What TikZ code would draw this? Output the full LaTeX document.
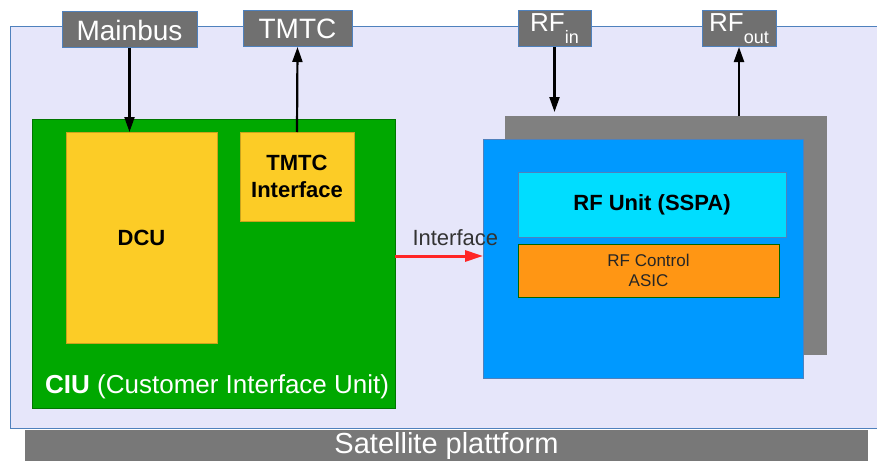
\documentclass[tikz,border=0pt]{standalone}
\usepackage{fontspec}
\setmainfont{Liberation Sans}
\usetikzlibrary{arrows.meta}
\definecolor{lav}{RGB}{230,230,250}
\definecolor{frameblue}{RGB}{79,129,189}
\definecolor{portgray}{RGB}{112,112,112}
\definecolor{ciugreen}{RGB}{0,168,0}
\definecolor{dcuyellow}{RGB}{252,204,38}
\definecolor{rfblue}{RGB}{0,153,255}
\definecolor{rfcyan}{RGB}{0,221,255}
\definecolor{rforange}{RGB}{255,150,20}
\definecolor{backgray}{RGB}{128,128,128}
\definecolor{platgray}{RGB}{120,120,120}
\tikzset{
  blk/.style={rectangle, anchor=north west, inner sep=0pt, outer sep=0pt},
  port/.style={blk, fill=portgray, draw=frameblue, line width=1pt, text=white,
               font=\fontsize{28}{30}\selectfont},
  sig/.style={line width=2.2pt, -{Triangle[length=15pt,width=10pt]}},
}
\newcommand{\portsub}[1]{\raisebox{-12pt}{\fontsize{18}{18}\selectfont #1}}
\begin{document}
\begin{tikzpicture}[x=1pt,y=-1pt]
\useasboundingbox (0,0) rectangle (877,460);
% satellite frame and platform bar
\node[blk, fill=lav, draw=frameblue, line width=1pt, minimum width=875pt, minimum height=401pt] (sat) at (10,27) {};
\node[blk, fill=platgray, minimum width=843pt, minimum height=32pt, text=white,
      font=\fontsize{29}{30}\selectfont] (plat) at (25,430) {Satellite plattform};
% external ports
\node[port, minimum width=135pt, minimum height=36pt] (mainbus) at (62,12) {Mainbus};
\node[port, minimum width=109pt, minimum height=36pt] (tmtc) at (243,11) {TMTC};
\node[port, minimum width=73pt, minimum height=36pt, font=\fontsize{26}{28}\selectfont] (rfin) at (518,11) {RF\portsub{in}};
\node[port, minimum width=74pt, minimum height=36pt, font=\fontsize{26}{28}\selectfont] (rfout) at (702,11) {RF\portsub{out}};
% customer interface unit
\node[blk, fill=ciugreen, draw=ciugreen!70!black, line width=0.6pt, minimum width=363pt, minimum height=289pt] (ciu) at (32,119) {};
\node[blk, fill=dcuyellow, draw=dcuyellow!80!black, line width=0.6pt, minimum width=151pt, minimum height=211pt,
      font=\bfseries\fontsize{22}{24}\selectfont] (dcu) at (66,132) {DCU};
\node[blk, fill=dcuyellow, draw=dcuyellow!80!black, line width=0.6pt, minimum width=114pt, minimum height=89pt,
      align=center, font=\bfseries\fontsize{22}{27}\selectfont] (tmtcif) at (240,132) {TMTC\\Interface};
\node[anchor=base west, inner sep=0pt, text=white, font=\fontsize{26}{28}\selectfont] (ciulabel) at (45,393)
  {\textbf{CIU} (Customer Interface Unit)};
% RF unit stack
\node[blk, fill=backgray, minimum width=322pt, minimum height=239pt] (rfback) at (505,116) {};
\node[blk, fill=rfblue, draw=frameblue, line width=0.8pt, minimum width=320pt, minimum height=239pt] (rfbox) at (483,139) {};
\node[blk, fill=rfcyan, draw=frameblue, line width=0.8pt, minimum width=268pt, minimum height=65pt,
      font=\bfseries\fontsize{22}{24}\selectfont] (rfunit) at (518,172) {RF Unit (SSPA)};
\node[blk, fill=rforange, draw=green!40!black, line width=0.8pt, minimum width=261pt, minimum height=53pt,
      align=center, font=\fontsize{17}{20}\selectfont, text=black!85] (rfctrl) at (518,244) {RF Control\\ASIC};
% connectors
\draw[sig] (mainbus.south) -- (mainbus.south |- dcu.north);
\draw[sig] (tmtcif.north) -- (tmtc.south);
\draw[sig] (rfin.south) -- ([yshift=4pt]rfin.south |- rfback.north);
\draw[sig] (rfout.south |- rfback.north) -- (rfout.south);
\draw[line width=3pt, red!85!white, -{Triangle[length=18pt,width=11pt]}]
  (ciu.east |- 0,256) -- (rfbox.west |- 0,256)
  node[pos=0, anchor=base west, inner sep=0pt, xshift=16pt, yshift=11pt,
       text=black!80, font=\fontsize{22}{24}\selectfont] (iflabel) {Interface};
\end{tikzpicture}
\end{document}
